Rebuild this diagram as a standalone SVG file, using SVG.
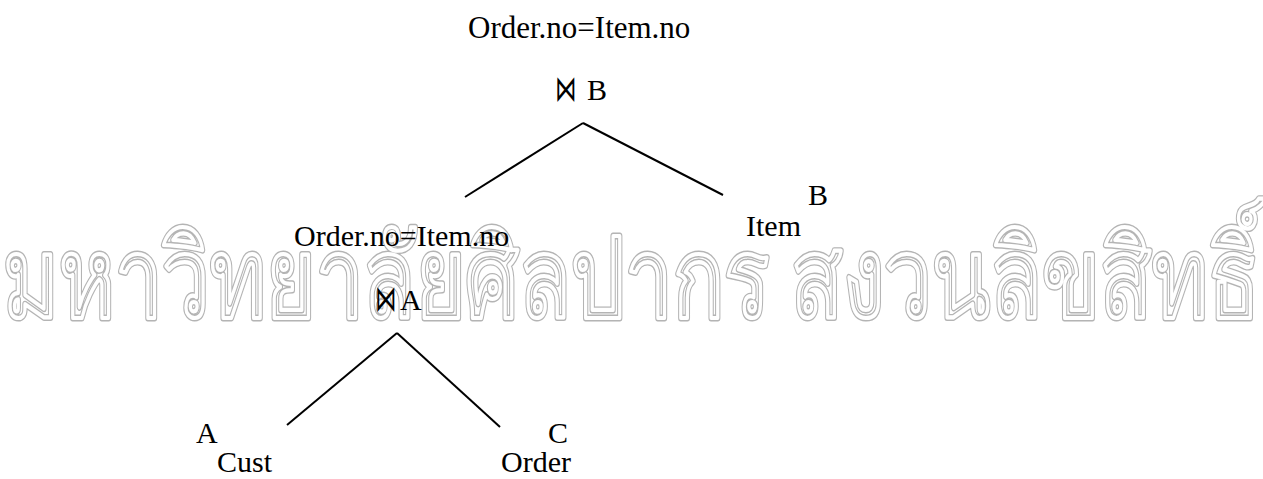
<svg xmlns="http://www.w3.org/2000/svg" width="1263" height="479" viewBox="0 0 1263 479">
<style>
.t{font-family:"Liberation Serif","Times New Roman",serif;font-size:30px;fill:#000}
.j{font-family:"DejaVu Serif","DejaVu Sans",serif;font-size:36px;fill:#000}
.wm{font-family:"Noto Sans","DejaVu Sans",sans-serif;font-size:112px;fill:none}
.wo{stroke:#b4b4b4;stroke-width:7;stroke-linejoin:round}
.wi{stroke:#fff;stroke-width:4.2;stroke-linejoin:round}
.e{stroke:#000;stroke-width:2;fill:none}
</style>
<rect width="1263" height="479" fill="#fff"/>
<g id="watermark">
<text class="wm wo" x="3" y="317" textLength="1256" lengthAdjust="spacingAndGlyphs">มหาวิทยาลัยศิลปากร สงวนลิขสิทธิ์</text>
<text class="wm wi" x="3" y="317" textLength="1256" lengthAdjust="spacingAndGlyphs">มหาวิทยาลัยศิลปากร สงวนลิขสิทธิ์</text>
</g>
<g id="connectors">
<line class="e" x1="583" y1="123" x2="465" y2="197"/>
<line class="e" x1="583" y1="123" x2="723" y2="195"/>
<line class="e" x1="397" y1="333" x2="287" y2="425"/>
<line class="e" x1="397" y1="333" x2="500" y2="427"/>
</g>
<g id="joinB">
<text class="t" x="468" y="38" style="font-size:31px">Order.no=Item.no</text>
<text class="j" transform="translate(555,101) scale(0.6,1)">⋈</text>
<text class="t" x="587" y="100">B</text>
</g>
<g id="joinA">
<text class="t" x="294" y="246">Order.no=Item.no</text>
<text class="j" transform="translate(375,311) scale(0.6,1)">⋈</text>
<text class="t" x="400" y="310">A</text>
</g>
<g id="item">
<text class="t" x="808" y="205">B</text>
<text class="t" x="746" y="236">Item</text>
</g>
<g id="cust">
<text class="t" x="196" y="443">A</text>
<text class="t" x="217" y="472">Cust</text>
</g>
<g id="order">
<text class="t" x="548" y="443">C</text>
<text class="t" x="501" y="472">Order</text>
</g>
</svg>
